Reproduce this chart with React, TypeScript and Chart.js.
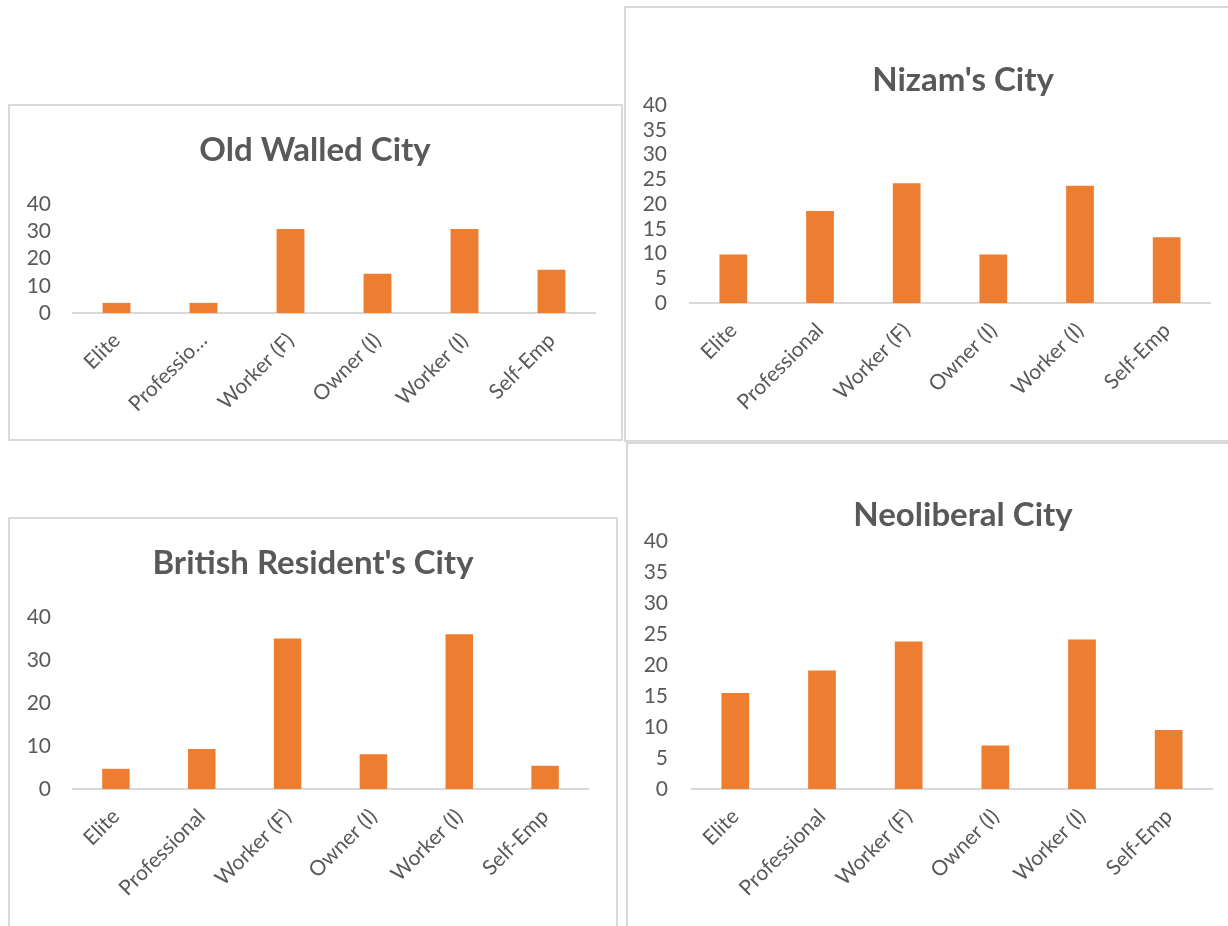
import React, { useEffect, useRef } from "react";
import { Chart, registerables } from "chart.js";

Chart.register(...registerables);

// ---- data ----
const categories = ["Elite", "Professional", "Worker (F)", "Owner (I)", "Worker (I)", "Self-Emp"];
const oldWalledLabels = ["Elite", "Professio…", "Worker (F)", "Owner (I)", "Worker (I)", "Self-Emp"];
const oldWalledValues = [3.7, 3.7, 30.8, 14.4, 30.8, 15.9];
const nizamValues = [9.8, 18.6, 24.2, 9.8, 23.7, 13.3];
const britishValues = [4.7, 9.3, 35.0, 8.1, 36.0, 5.4];
const neoliberalValues = [15.5, 19.1, 23.8, 7.0, 24.1, 9.5];
const yMax = 40;

const BAR = "#ED7D31";
const TEXT = "#595959";
const LINE = "#d9d9d9";
const FONT = "Lato, 'Open Sans', sans-serif";
const TICK_SIZE = 21;
const TITLE_SIZE = 33;

const titlePlugin = {
  id: "panelTitle",
  afterDraw(chart: any, _args: any, opts: any) {
    const ctx = chart.ctx;
    ctx.save();
    ctx.font = `bold ${opts.size}px ${FONT}`;
    ctx.fillStyle = TEXT;
    ctx.textAlign = "center";
    ctx.textBaseline = "middle";
    ctx.fillText(opts.text, opts.x, opts.y);
    ctx.restore();
  },
};

type Box = { left: number; top: number; width: number; height: number };
type Area = { left: number; top: number; right: number; bottom: number };

type PanelProps = {
  title: string;
  labels: string[];
  values: number[];
  step: number;
  box: Box;
  area: Area;
  titleAt: { x: number; y: number };
  labelRight: number;
};

function Panel(p: PanelProps) {
  const ref = useRef<HTMLCanvasElement>(null);
  useEffect(() => {
    const { box, area } = p;
    const W = box.width;
    const H = box.height;
    const cl = area.left - box.left;
    const cr = area.right - box.left;
    const ct = area.top - box.top;
    const cb = area.bottom - box.top;
    const chart = new Chart(ref.current as HTMLCanvasElement, {
      type: "bar",
      data: {
        labels: p.labels,
        datasets: [
          {
            data: p.values,
            backgroundColor: BAR,
            borderWidth: 0,
            barPercentage: 0.32,
            categoryPercentage: 1,
          },
        ],
      },
      options: {
        responsive: false,
        animation: false,
        devicePixelRatio: 1,
        layout: { padding: { left: 0, top: ct, right: W - cr, bottom: 0 } },
        plugins: {
          legend: { display: false },
          tooltip: { enabled: false },
          title: { display: false },
          // @ts-ignore
          panelTitle: { text: p.title, x: p.titleAt.x - box.left, y: p.titleAt.y - box.top, size: TITLE_SIZE },
        },
        scales: {
          x: {
            grid: { display: false, drawTicks: false },
            border: { display: true, color: LINE, width: 2 },
            ticks: {
              autoSkip: false,
              minRotation: 45,
              maxRotation: 45,
              padding: 15,
              color: TEXT,
              font: { family: FONT, size: TICK_SIZE },
            },
            afterFit: (s: any) => {
              s.height = H - cb;
            },
          },
          y: {
            min: 0,
            max: yMax,
            grid: { display: false, drawTicks: false },
            border: { display: false },
            ticks: {
              stepSize: p.step,
              autoSkip: false,
              padding: area.left - p.labelRight,
              color: TEXT,
              font: { family: FONT, size: TICK_SIZE },
            },
            afterFit: (s: any) => {
              s.width = cl;
            },
          },
        },
      },
      plugins: [titlePlugin as any],
    });
    return () => chart.destroy();
  }, []);

  const { box } = p;
  return (
    <>
      <div
        style={{
          position: "absolute",
          left: box.left,
          top: box.top,
          width: box.width,
          height: box.height,
          border: `2px solid ${LINE}`,
          boxSizing: "border-box",
        }}
      />
      <canvas
        ref={ref}
        width={box.width}
        height={box.height}
        style={{ position: "absolute", left: box.left, top: box.top, width: box.width, height: box.height }}
      />
    </>
  );
}

export default function App() {
  return (
    <div
      style={{
        position: "absolute",
        left: 0,
        top: 0,
        width: 1228,
        height: 926,
        overflow: "hidden",
        background: "#fff",
      }}
    >
      <Panel
        title="Old Walled City"
        labels={oldWalledLabels}
        values={oldWalledValues}
        step={10}
        box={{ left: 8, top: 104, width: 615, height: 337 }}
        area={{ left: 73, top: 204, right: 595, bottom: 313 }}
        titleAt={{ x: 315, y: 150 }}
        labelRight={51}
      />
      <Panel
        title="Nizam's City"
        labels={categories}
        values={nizamValues}
        step={5}
        box={{ left: 624, top: 6, width: 700, height: 436 }}
        area={{ left: 690, top: 105, right: 1210, bottom: 303 }}
        titleAt={{ x: 963, y: 80 }}
        labelRight={667}
      />
      <Panel
        title="British Resident's City"
        labels={categories}
        values={britishValues}
        step={10}
        box={{ left: 8, top: 517, width: 610, height: 500 }}
        area={{ left: 73, top: 617, right: 588, bottom: 789 }}
        titleAt={{ x: 313, y: 563 }}
        labelRight={51}
      />
      <Panel
        title="Neoliberal City"
        labels={categories}
        values={neoliberalValues}
        step={5}
        box={{ left: 626, top: 442, width: 700, height: 600 }}
        area={{ left: 692, top: 541, right: 1212, bottom: 789 }}
        titleAt={{ x: 963, y: 515 }}
        labelRight={668}
      />
    </div>
  );
}
